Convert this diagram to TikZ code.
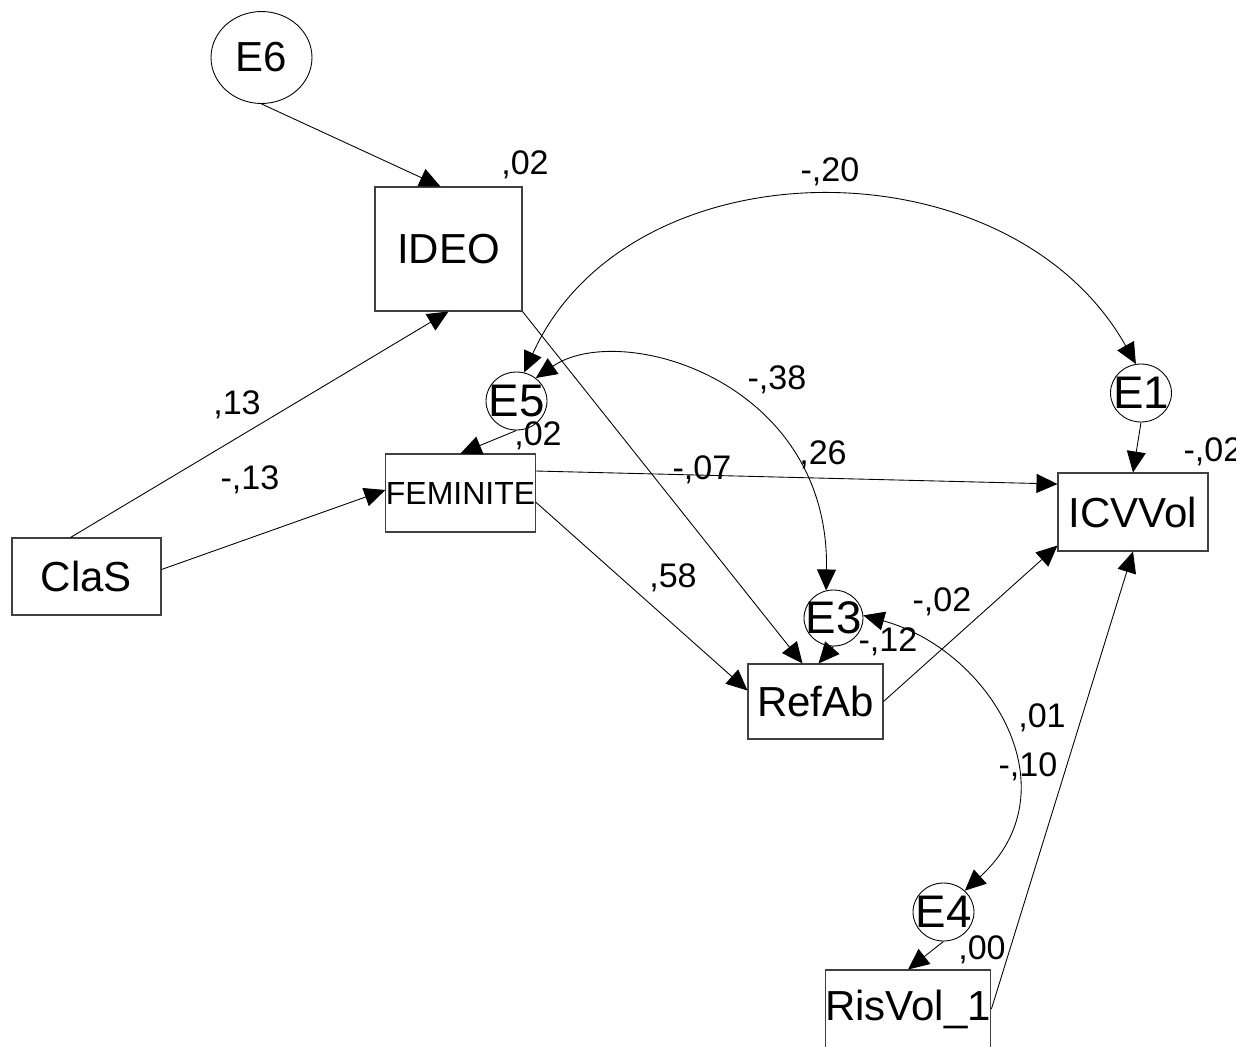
\documentclass[tikz,border=0pt]{standalone}
\usepackage{fontspec}
\setmainfont{Liberation Sans}
\usetikzlibrary{shapes.geometric, calc, arrows.meta}
\newcommand{\varfont}{\fontsize{23.9pt}{26pt}\selectfont}
\newcommand{\errfont}{\fontsize{26pt}{28pt}\selectfont}
\newcommand{\estfont}{\fontsize{19.4pt}{21pt}\selectfont}
\newcommand{\femfont}{\fontsize{18.2pt}{20pt}\selectfont}

\begin{document}
\begin{tikzpicture}[
  x=0.02cm, y=-0.02cm,
  % Observed variables (boxes)
  obs/.style={rectangle, draw=black!75, line width=0.6pt, inner sep=0pt, font=\varfont},
  % Error terms (ellipses), text may run over the outline
  err/.style={ellipse, draw=black, line width=0.5pt, inner sep=0pt, font=\errfont,
    minimum width=1.22cm, minimum height=1.16cm,
    execute at begin node={\hbox to 0pt\bgroup\hss}, execute at end node={\hss\egroup}},
  % Paths and covariances
  regr/.style={line width=0.5pt, -{Triangle[length=0.42cm, width=0.38cm]}},
  corr/.style={line width=0.5pt, {Triangle[length=0.42cm, width=0.38cm]}-{Triangle[length=0.42cm, width=0.38cm]}},
  est/.style={font=\estfont, inner sep=0pt}
  ]

  \useasboundingbox (0,0) rectangle (1252,1046);
  \clip (0,0) rectangle (1235,1046);

  % --- Observed variables ---
  \node[obs, minimum width=2.94cm, minimum height=2.48cm] (IDEO) at (448.5,249) {IDEO};
  \node[obs, minimum width=2.98cm, minimum height=1.54cm] (ClaS) at (86.5,576.5) {ClaS};
  \node[obs, minimum width=2.98cm, minimum height=1.56cm, font=\femfont] (FEM) at (460.5,493) {FEMINITE};
  \node[obs, minimum width=3cm, minimum height=1.56cm] (ICV) at (1133,512) {ICVVol};
  \node[obs, minimum width=2.7cm, minimum height=1.5cm] (RefAb) at (815.5,701.5) {RefAb};
  \node[obs, minimum width=3cm, minimum height=1.56cm] (RisVol) at (908,1009) {RisVol\_1};

  % --- Error terms ---
  \node[err, minimum width=2.02cm, minimum height=1.84cm, font=\varfont] (E6) at (261.5,57.5) {E6};
  \node[err] (E5) at (516.5,401) {E5};
  \node[err] (E1) at (1141,393) {E1};
  \node[err, minimum width=1.18cm, minimum height=1.12cm] (E3) at (833.5,618) {E3};
  \node[err] (E4) at (943.5,912) {E4};

  % --- Regression paths ---
  \draw[regr] (E6.south) -- ($(IDEO.north)+(-8,0)$);
  \draw[regr] ($(ClaS.north)+(-16,0)$) -- (IDEO.south);
  \draw[regr] ($(ClaS.east)+(0,-7)$) -- ($(FEM.west)+(0,-3)$);
  \draw[regr] (IDEO.south east) -- ($(RefAb.north)+(-13,0)$);
  \draw[regr] ($(FEM.east)+(0,-22)$) -- ($(ICV.west)+(0,-28)$);
  \draw[regr] ($(FEM.east)+(0,9)$) -- ($(RefAb.west)+(0,-11)$);
  \draw[regr] (RefAb.east) -- ($(ICV.south west)+(0,-6)$);
  \draw[regr] (RisVol.east) -- (ICV.south);

  % error terms into their variables
  \draw[regr] (E1.south) -- (ICV.north);
  \draw[regr] (E5.south) -- (FEM.north);
  \draw[regr] (E3.south) -- ($(RefAb.north)+(3,0)$);
  \draw[regr] (E4.south) -- (RisVol.north);

  % --- Covariances ---
  \draw[corr] (E5.75) .. controls (630,140) and (1010,140) .. (E1.100);
  \draw[corr] (E5.50) .. controls (620,320) and (830,380) .. (E3.105);
  \draw[corr] (E3.5) .. controls (990,650) and (1075,790) .. (E4.45);

  % --- Estimates ---
  \node[est] (rIDEO) at (525,165) {,02};
  \node[est] (rFEM) at (538,436) {,02};
  \node[est] (rICV) at (1213,452) {-,02};
  \node[est] (rRefAb) at (888,642) {-,12};
  \node[est] (rRisVol) at (982,950) {,00};
  \node[est] (cE5E1) at (830,172) {-,20};
  \node[est] (cE5E3) at (777,380) {-,38};
  \node[est] (cE3E4) at (1028,767) {-,10};
  \node[est] (bClaSIDEO) at (237,405) {,13};
  \node[est] (bClaSFEM) at (250,480) {-,13};
  \node[est] (bIDEORefAb) at (823,455) {,26};
  \node[est] (bFEMICV) at (702,470) {-,07};
  \node[est] (bFEMRefAb) at (673,578) {,58};
  \node[est] (bRefAbICV) at (942,602) {-,02};
  \node[est] (bRisVolICV) at (1042,718) {,01};

\end{tikzpicture}
\end{document}
